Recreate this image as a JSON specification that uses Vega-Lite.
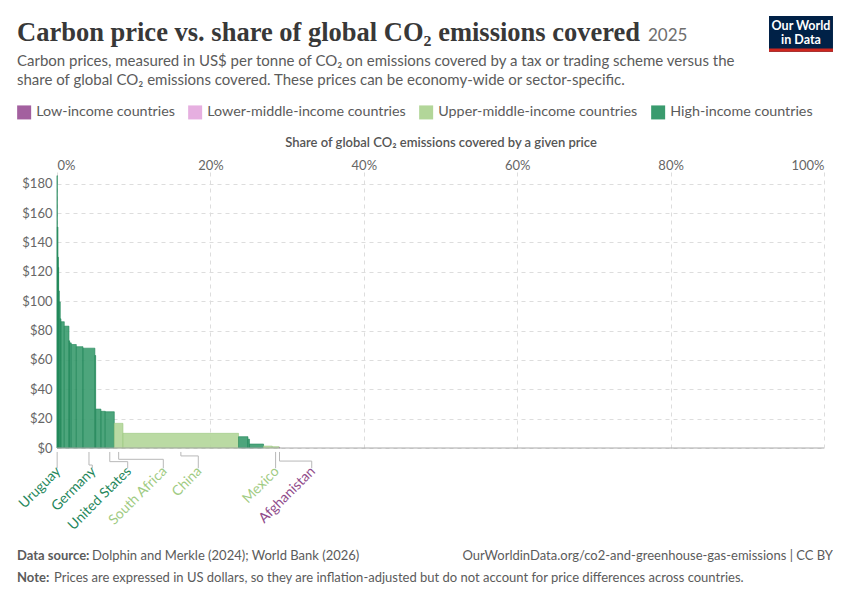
{
  "$schema": "https://vega.github.io/schema/vega-lite/v6.json",
  "width": 767,
  "height": 276,
  "autosize": {"type": "none"},
  "padding": {"left": 57, "top": 172, "right": 26, "bottom": 152},
  "background": "white",
  "datasets": {
    "bars": [
      {"country": "Uruguay", "group": "High-income countries", "x0": 0.0, "x1": 0.04, "price": 185.5},
      {"group": "High-income countries", "x0": 0.04, "x1": 0.13, "price": 150.5},
      {"group": "High-income countries", "x0": 0.13, "x1": 0.17, "price": 130},
      {"group": "High-income countries", "x0": 0.17, "x1": 0.22, "price": 123},
      {"group": "High-income countries", "x0": 0.22, "x1": 0.3, "price": 107},
      {"group": "High-income countries", "x0": 0.3, "x1": 0.43, "price": 99.5},
      {"group": "High-income countries", "x0": 0.43, "x1": 0.52, "price": 88},
      {"group": "High-income countries", "x0": 0.52, "x1": 0.95, "price": 86},
      {"group": "High-income countries", "x0": 0.95, "x1": 1.56, "price": 83},
      {"group": "High-income countries", "x0": 1.56, "x1": 1.65, "price": 73},
      {"group": "High-income countries", "x0": 1.65, "x1": 1.86, "price": 71.6},
      {"group": "High-income countries", "x0": 1.86, "x1": 2.52, "price": 70.5},
      {"group": "High-income countries", "x0": 2.52, "x1": 3.39, "price": 69},
      {"country": "Germany", "group": "High-income countries", "x0": 3.39, "x1": 4.94, "price": 68},
      {"group": "High-income countries", "x0": 4.94, "x1": 5.04, "price": 63},
      {"group": "High-income countries", "x0": 5.04, "x1": 5.73, "price": 26.5},
      {"group": "High-income countries", "x0": 5.73, "x1": 6.29, "price": 25},
      {"country": "United States", "group": "High-income countries", "x0": 6.29, "x1": 7.47, "price": 24.7},
      {"country": "South Africa", "group": "Upper-middle-income countries", "x0": 7.47, "x1": 8.6, "price": 16.8},
      {"country": "China", "group": "Upper-middle-income countries", "x0": 8.6, "x1": 23.67, "price": 10},
      {"group": "High-income countries", "x0": 23.67, "x1": 24.9, "price": 7.7},
      {"group": "High-income countries", "x0": 24.9, "x1": 25.1, "price": 6},
      {"group": "High-income countries", "x0": 25.1, "x1": 26.93, "price": 2.7},
      {"group": "Upper-middle-income countries", "x0": 26.93, "x1": 28.06, "price": 1.3},
      {"country": "Mexico", "group": "Upper-middle-income countries", "x0": 28.06, "x1": 28.97, "price": 0.9},
      {"country": "Afghanistan", "group": "Low-income countries", "x0": 28.97, "x1": 29.05, "price": 0.2}
    ],
    "labels": [
      {"country": "Uruguay", "group": "High-income countries", "share": 0.02, "labelShare": 0.02, "elbow": -13.8},
      {"country": "Germany", "group": "High-income countries", "share": 4.17, "labelShare": 4.6, "elbow": -11.6},
      {"country": "United States", "group": "High-income countries", "share": 6.88, "labelShare": 9.22, "elbow": -9.3},
      {"country": "South Africa", "group": "Upper-middle-income countries", "share": 8.04, "labelShare": 13.86, "elbow": -7.7},
      {"country": "China", "group": "Upper-middle-income countries", "share": 16.15, "labelShare": 18.42, "elbow": -5.4},
      {"country": "Mexico", "group": "Upper-middle-income countries", "share": 28.5, "labelShare": 28.5, "elbow": -13.8},
      {"country": "Afghanistan", "group": "Low-income countries", "share": 29.01, "labelShare": 33.21, "elbow": -8.9}
    ]
  },
  "layer": [
    {
      "data": {"name": "bars"},
      "mark": {"type": "rect", "fillOpacity": 0.9, "strokeWidth": 0.6},
      "encoding": {
        "x": {
          "field": "x0",
          "type": "quantitative",
          "scale": {"domain": [0, 100], "nice": false, "zero": false},
          "axis": {
            "orient": "top",
            "title": "Share of global CO₂ emissions covered by a given price",
            "values": [0, 20, 40, 60, 80, 100],
            "labelExpr": "datum.value + '%'",
            "labelFlush": true,
            "labelPadding": 0,
            "titlePadding": 10
          }
        },
        "x2": {"field": "x1"},
        "y": {
          "field": "price",
          "type": "quantitative",
          "scale": {"domain": [0, 188], "nice": false},
          "axis": {
            "title": null,
            "values": [0, 20, 40, 60, 80, 100, 120, 140, 160, 180],
            "tickCount": 10,
            "labelExpr": "'$' + datum.value",
            "labelOverlap": false,
            "labelPadding": 5
          }
        },
        "y2": {"datum": 0},
        "color": {
          "field": "group",
          "type": "nominal",
          "scale": {
            "domain": ["Low-income countries", "Lower-middle-income countries", "Upper-middle-income countries", "High-income countries"],
            "range": ["#a3609f", "#e6afe0", "#b2d699", "#3a9b6e"]
          },
          "legend": {
            "title": null,
            "orient": "none",
            "legendX": -40,
            "legendY": -67,
            "direction": "horizontal",
            "symbolType": "square",
            "symbolSize": 196,
            "symbolStrokeWidth": 0,
            "symbolOpacity": 1,
            "labelFontSize": 14.3,
            "labelColor": "#5b5b5b",
            "labelLimit": 400,
            "labelOffset": 5,
            "columnPadding": 13
          }
        },
        "stroke": {
          "field": "group",
          "type": "nominal",
          "scale": {
            "domain": ["Low-income countries", "Lower-middle-income countries", "Upper-middle-income countries", "High-income countries"],
            "range": ["#8c3f86", "#d596cf", "#9cc880", "#1e8558"]
          },
          "legend": null
        }
      }
    },
    {
      "data": {"values": [{}]},
      "mark": {"type": "rule", "color": "#a8a8a8", "strokeWidth": 1},
      "encoding": {
        "x": {"datum": 0, "type": "quantitative"},
        "x2": {"datum": 100},
        "y": {"datum": 0, "type": "quantitative"}
      }
    },
    {
      "data": {"name": "labels"},
      "mark": {"type": "rule", "color": "#b8b8b8", "strokeWidth": 1},
      "encoding": {
        "x": {"field": "share", "type": "quantitative"},
        "y": {"field": "elbow", "type": "quantitative"},
        "y2": {"datum": -2.7}
      }
    },
    {
      "data": {"name": "labels"},
      "mark": {"type": "rule", "color": "#b8b8b8", "strokeWidth": 1},
      "encoding": {
        "x": {"field": "share", "type": "quantitative"},
        "x2": {"field": "labelShare"},
        "y": {"field": "elbow", "type": "quantitative"}
      }
    },
    {
      "data": {"name": "labels"},
      "mark": {"type": "rule", "color": "#b8b8b8", "strokeWidth": 1},
      "encoding": {
        "x": {"field": "labelShare", "type": "quantitative"},
        "y": {"field": "elbow", "type": "quantitative"},
        "y2": {"datum": -13.8}
      }
    },
    {
      "data": {"name": "labels"},
      "mark": {"type": "text", "angle": 315, "align": "right", "baseline": "middle", "fontSize": 14, "dx": 2, "font": "Lato"},
      "encoding": {
        "x": {"field": "labelShare", "type": "quantitative"},
        "y": {"datum": -15.5, "type": "quantitative"},
        "text": {"field": "country"},
        "fill": {
          "field": "group",
          "type": "nominal",
          "scale": {
            "domain": ["Low-income countries", "Lower-middle-income countries", "Upper-middle-income countries", "High-income countries"],
            "range": ["#8f4a8a", "#d79fd2", "#9fcb83", "#1f875b"]
          },
          "legend": null
        }
      }
    },
    {
      "data": {"values": [{}]},
      "mark": {"type": "text", "align": "left", "baseline": "alphabetic", "font": "Liberation Serif", "fontSize": 26.5, "fontWeight": "bold", "color": "#383838"},
      "encoding": {
        "x": {"datum": -5.215, "type": "quantitative"},
        "y": {"datum": 277.2, "type": "quantitative"},
        "text": {"value": "Carbon price vs. share of global CO₂ emissions covered"}
      }
    },
    {
      "data": {"values": [{}]},
      "mark": {"type": "text", "align": "left", "baseline": "alphabetic", "font": "Lato", "fontSize": 17, "color": "#6e6e6e"},
      "encoding": {
        "x": {"datum": 77.05, "type": "quantitative"},
        "y": {"datum": 277.2, "type": "quantitative"},
        "text": {"value": "2025"}
      }
    },
    {
      "data": {"values": [{}]},
      "mark": {"type": "text", "align": "left", "baseline": "alphabetic", "font": "Lato", "fontSize": 15, "color": "#5b5b5b", "lineHeight": 19},
      "encoding": {
        "x": {"datum": -5.215, "type": "quantitative"},
        "y": {"datum": 260.2, "type": "quantitative"},
        "text": {"value": ["Carbon prices, measured in US$ per tonne of CO₂ on emissions covered by a tax or trading scheme versus the", "share of global CO₂ emissions covered. These prices can be economy-wide or sector-specific."]}
      }
    },
    {
      "data": {"values": [{}]},
      "mark": {"type": "rect", "color": "#002147"},
      "encoding": {
        "x": {"datum": 92.83, "type": "quantitative"},
        "x2": {"datum": 101.17},
        "y": {"datum": 294.3, "type": "quantitative"},
        "y2": {"datum": 269.9}
      }
    },
    {
      "data": {"values": [{}]},
      "mark": {"type": "rect", "color": "#ce261e"},
      "encoding": {
        "x": {"datum": 92.83, "type": "quantitative"},
        "x2": {"datum": 101.17},
        "y": {"datum": 272.2, "type": "quantitative"},
        "y2": {"datum": 269.9}
      }
    },
    {
      "data": {"values": [{}]},
      "mark": {"type": "text", "align": "center", "baseline": "alphabetic", "font": "Lato", "fontSize": 12.5, "fontWeight": "bold", "color": "white", "lineHeight": 14.5},
      "encoding": {
        "x": {"datum": 97.0, "type": "quantitative"},
        "y": {"datum": 284.9, "type": "quantitative"},
        "text": {"value": ["Our World", "in Data"]}
      }
    },
    {
      "data": {"values": [{}]},
      "mark": {"type": "text", "align": "left", "baseline": "alphabetic", "font": "Lato", "fontSize": 13, "fontWeight": "bold", "color": "#5b5b5b"},
      "encoding": {
        "x": {"datum": -5.215, "type": "quantitative"},
        "y": {"datum": -76.3, "type": "quantitative"},
        "text": {"value": "Data source:"}
      }
    },
    {
      "data": {"values": [{}]},
      "mark": {"type": "text", "align": "left", "baseline": "alphabetic", "font": "Lato", "fontSize": 13, "color": "#5b5b5b"},
      "encoding": {
        "x": {"datum": 4.56, "type": "quantitative"},
        "y": {"datum": -76.3, "type": "quantitative"},
        "text": {"value": "Dolphin and Merkle (2024); World Bank (2026)"}
      }
    },
    {
      "data": {"values": [{}]},
      "mark": {"type": "text", "align": "right", "baseline": "alphabetic", "font": "Lato", "fontSize": 13, "color": "#5b5b5b"},
      "encoding": {
        "x": {"datum": 101.17, "type": "quantitative"},
        "y": {"datum": -76.3, "type": "quantitative"},
        "text": {"value": "OurWorldinData.org/co2-and-greenhouse-gas-emissions | CC BY"}
      }
    },
    {
      "data": {"values": [{}]},
      "mark": {"type": "text", "align": "left", "baseline": "alphabetic", "font": "Lato", "fontSize": 13, "fontWeight": "bold", "color": "#5b5b5b"},
      "encoding": {
        "x": {"datum": -5.215, "type": "quantitative"},
        "y": {"datum": -91.3, "type": "quantitative"},
        "text": {"value": "Note:"}
      }
    },
    {
      "data": {"values": [{}]},
      "mark": {"type": "text", "align": "left", "baseline": "alphabetic", "font": "Lato", "fontSize": 13, "color": "#5b5b5b"},
      "encoding": {
        "x": {"datum": -0.39, "type": "quantitative"},
        "y": {"datum": -91.3, "type": "quantitative"},
        "text": {"value": "Prices are expressed in US dollars, so they are inflation-adjusted but do not account for price differences across countries."}
      }
    }
  ],
  "config": {
    "font": "Lato",
    "view": {"stroke": null},
    "axis": {
      "grid": true,
      "gridDash": [4, 4],
      "gridColor": "#dddddd",
      "domain": false,
      "ticks": false,
      "labelFont": "Lato",
      "labelFontSize": 13,
      "labelColor": "#666666",
      "titleFont": "Lato",
      "titleFontSize": 13,
      "titleFontWeight": 600,
      "titleColor": "#555555"
    },
    "axisY": {"labelOverlap": false, "tickCount": 10}
  }
}
